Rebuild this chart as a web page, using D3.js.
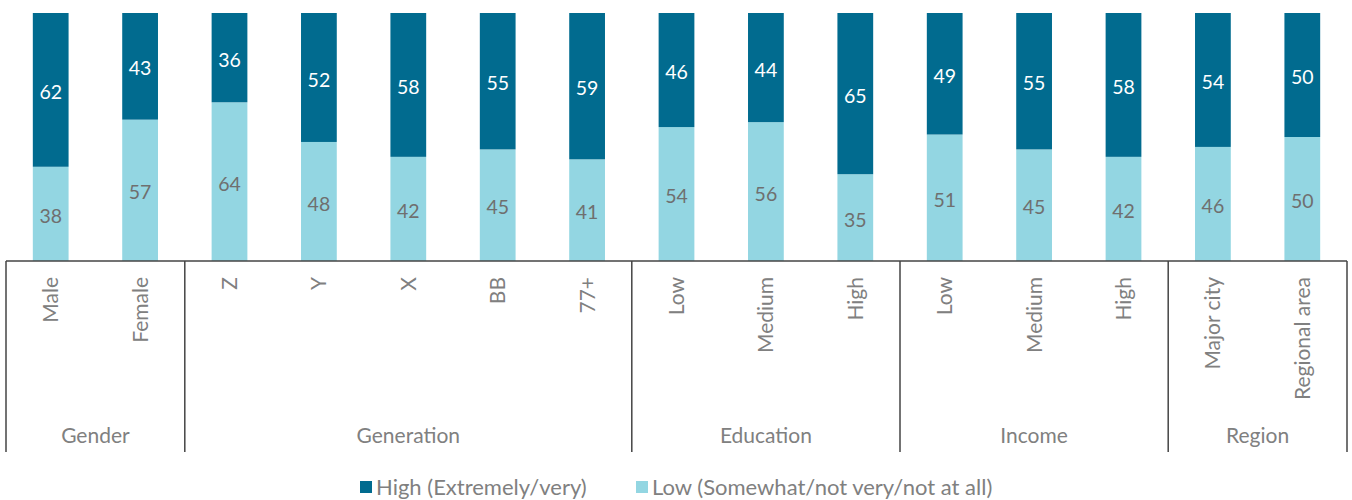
<!DOCTYPE html>
<html>
<head>
<meta charset="utf-8">
<script src="https://cdn.jsdelivr.net/npm/d3@7"></script>
<style>
  body { margin: 0; background: #fff; }
  #graf text { font-family: Lato, "Open Sans", sans-serif; }
</style>
</head>
<body>
<div id="graf"></div>
<script>
// Datos
categorias = ['Male', 'Female', 'Z', 'Y', 'X', 'BB', '77+', 'Low', 'Medium', 'High', 'Low', 'Medium', 'High', 'Major city', 'Regional area']
claves = ['g1', 'g2', 'z', 'y', 'x', 'bb', 'o77', 'eLow', 'eMed', 'eHigh', 'iLow', 'iMed', 'iHigh', 'major', 'regional']
altos = [62, 43, 36, 52, 58, 55, 59, 46, 44, 65, 49, 55, 58, 54, 50]
bajos = [38, 57, 64, 48, 42, 45, 41, 54, 56, 35, 51, 45, 42, 46, 50]
grupos = ['Gender', 'Generation', 'Education', 'Income', 'Region']
tamGrupos = [2, 5, 3, 3, 2]
series = ['High (Extremely/very)', 'Low (Somewhat/not very/not at all)']

ancho_total = 1352
alto_total = 500
margins = { top: 13, left: 6, right: 5, bottom: 239 }
ancho = ancho_total - margins.left - margins.right
alto = alto_total - margins.top - margins.bottom

svg = d3.select('#graf').append('svg')
  .attr('width', ancho_total)
  .attr('height', alto_total)

g = svg.append('g')
  .attr('transform', `translate(${margins.left}, ${margins.top})`)

// Escaladores
x = d3.scaleBand().domain(claves).range([0, ancho]).paddingInner(0.6).paddingOuter(0.3)
xb = d3.scaleBand().domain(claves).range([0, ancho])
y = d3.scaleLinear().domain([0, 100]).range([alto, 0])
color = d3.scaleOrdinal().domain(series).range(['#016b8f', '#93d6e2'])

datos = claves.map((k, i) => ({ key: k, High: altos[i], Low: bajos[i] }))
apilado = d3.stack().keys(['Low', 'High'])(datos)

// Barras
capas = g.selectAll('.capa')
  .data(apilado)
  .join('g')
  .attr('fill', d => d.key == 'High' ? color(series[0]) : color(series[1]))

capas.selectAll('rect')
  .data(d => d)
  .join('rect')
  .attr('x', d => x(d.data.key))
  .attr('width', x.bandwidth())
  .attr('y', d => y(d[1]))
  .attr('height', d => y(d[0]) - y(d[1]))

// Etiquetas de valor
capas.each(function(capa) {
  d3.select(this).selectAll('text')
    .data(capa)
    .join('text')
    .attr('x', d => x(d.data.key) + x.bandwidth() / 2)
    .attr('y', d => (y(d[0]) + y(d[1])) / 2 + 2)
    .attr('dy', '0.36em')
    .attr('text-anchor', 'middle')
    .attr('font-size', 19.5)
    .attr('fill', capa.key == 'High' ? '#ffffff' : '#6f6f6f')
    .text(d => capa.key == 'High' ? d.data.High : d.data.Low)
})

// Eje inferior
lineColor = '#444'
g.append('line')
  .attr('x1', 0).attr('x2', ancho)
  .attr('y1', alto).attr('y2', alto)
  .attr('stroke', lineColor).attr('stroke-width', 1.5)

// Etiquetas de categoria (rotadas)
g.selectAll('.cat')
  .data(categorias)
  .join('text')
  .attr('class', 'cat')
  .attr('transform', (d, i) => `translate(${x(claves[i]) + x.bandwidth() / 2 + 7.5}, ${alto + 16}) rotate(-90)`)
  .attr('text-anchor', 'end')
  .attr('font-size', 21)
  .attr('fill', '#808080')
  .text(d => d)

// Separadores de grupo y nombres de grupo
inicio = 0
limites = [0]
tamGrupos.forEach(n => { inicio += n; limites.push(inicio) })

g.selectAll('.sep')
  .data(limites)
  .join('line')
  .attr('class', 'sep')
  .attr('x1', i => i < claves.length ? xb(claves[i]) : ancho)
  .attr('x2', i => i < claves.length ? xb(claves[i]) : ancho)
  .attr('y1', alto)
  .attr('y2', alto + 191)
  .attr('stroke', lineColor).attr('stroke-width', 1.5)

g.selectAll('.grupo')
  .data(grupos)
  .join('text')
  .attr('class', 'grupo')
  .attr('x', (d, i) => {
    let a = xb(claves[limites[i]])
    let b = limites[i + 1] < claves.length ? xb(claves[limites[i + 1]]) : ancho
    return (a + b) / 2
  })
  .attr('y', alto + 182)
  .attr('text-anchor', 'middle')
  .attr('font-size', 21)
  .attr('fill', '#808080')
  .text(d => d)

// Leyenda
leyX = [360, 636]
leyenda = svg.selectAll('.ley')
  .data(series)
  .join('g')
  .attr('class', 'ley')
  .attr('transform', (d, i) => `translate(${leyX[i]}, 481)`)

leyenda.append('rect')
  .attr('width', 12).attr('height', 12)
  .attr('fill', d => color(d))

leyenda.append('text')
  .attr('x', 16).attr('y', 6)
  .attr('dy', '0.36em')
  .attr('font-size', 22)
  .attr('fill', '#808080')
  .text(d => d)
</script>
</body>
</html>
